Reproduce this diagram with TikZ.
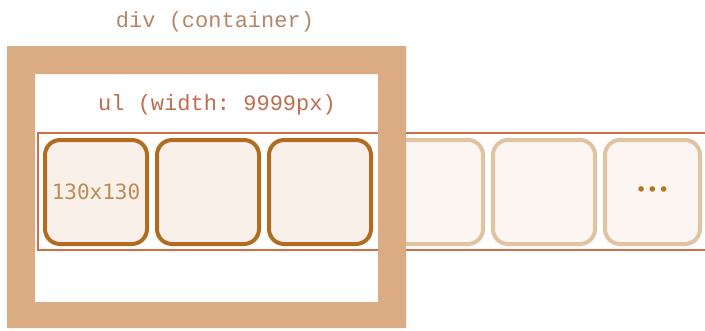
\documentclass[tikz,border=0pt]{standalone}
\usepackage{fontspec}
\setmonofont{Liberation Mono}
\newfontfamily\itemmono{DejaVu Sans Mono}
\newfontfamily\dotsfont{DejaVu Sans}
\usetikzlibrary{positioning}
\definecolor{FrameTan}{HTML}{DBAB83}
\definecolor{DivText}{HTML}{B4876A}
\definecolor{UlRed}{HTML}{D06E48}
\definecolor{UlText}{HTML}{BE6E50}
\definecolor{ItemBrown}{HTML}{B26C22}
\definecolor{ItemFill}{HTML}{FAF0EA}
\definecolor{FadeLine}{HTML}{E0C3A0}
\definecolor{FadeFill}{HTML}{FCF6F3}
\definecolor{ItemText}{HTML}{B98C5A}
\definecolor{DotBrown}{HTML}{B8741E}
\tikzset{
  label/.style={font=\ttfamily\fontsize{22}{26}\selectfont,inner sep=0pt},
  item/.style={draw=ItemBrown,fill=ItemFill,line width=4pt,rounded corners=15pt,
    minimum width=102pt,minimum height=104pt,inner sep=0pt},
  faded/.style={item,draw=FadeLine,fill=FadeFill},
  ulbox/.style={draw=UlRed,line width=2.8pt,fill=white},
  frame/.style={fill=FrameTan,even odd rule}
}
\begin{document}
\begin{tikzpicture}[x=1pt,y=-1pt]
  \useasboundingbox[fill=white] (0,0) rectangle (705,330);
  % the ul strip runs past the picture
  \draw[ulbox] (38,133) rectangle (712,250);
  \node[item] (item1) at (96,192) {\itemmono\fontsize{21}{25}\selectfont\color{ItemText}130x130};
  \node[item] (item2) at (208,192) {};
  \node[item] (item3) at (320,192) {};
  \node[faded] (item4) at (432,192) {};
  \node[faded] (item5) at (544,192) {};
  \node[faded,minimum width=95pt] (item6) at (652.5,192) {\dotsfont\fontsize{19}{22}\selectfont\color{DotBrown}•••};
  % container frame on top
  \fill[frame] (7,46) rectangle (406,328) (35,74) rectangle (378,302);
  \node[label,text=DivText] (div) at (215,22) {div (container)};
  \node[label,text=UlText] (ul) at (217,105) {ul (width: 9999px)};
\end{tikzpicture}
\end{document}
